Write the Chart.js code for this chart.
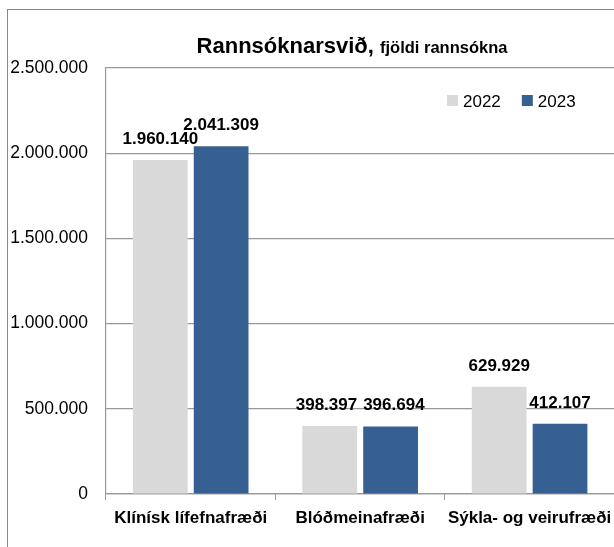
<!DOCTYPE html>
<html>
<head>
<meta charset="utf-8">
<script src="https://cdn.jsdelivr.net/npm/chart.js@4/dist/chart.umd.min.js"></script>
<style>
  html, body { margin: 0; padding: 0; background: #fff; overflow: hidden; }
  #frame { position: absolute; left: 7px; top: 9px; width: 700px; height: 600px; border: 1px solid #8a8a8a; }
  #wrap { position: absolute; left: 0; top: 0; width: 620px; height: 547px; }
</style>
</head>
<body>
<div id="frame"></div>
<div id="wrap"><canvas id="chart"></canvas></div>
<script>
const categories = ["Klínísk lífefnafræði", "Blóðmeinafræði", "Sýkla- og veirufræði"];
const values2022 = [1960140, 398397, 629929];
const values2023 = [2041309, 396694, 412107];
const seriesNames = ["2022", "2023"];
const titleMain = "Rannsóknarsvið,";
const titleSub = "fjöldi rannsókna";

const FONT = "'Liberation Sans', Arial, sans-serif";

function fmt(n) {
    return String(n).replace(/\B(?=(\d{3})+(?!\d))/g, ".");
}

// title drawn in two sizes, like the original
const titlePlugin = {
    id: "twoPartTitle",
    afterDraw(chart) {
        const ctx = chart.ctx;
        ctx.save();
        ctx.fillStyle = "#000";
        ctx.textBaseline = "alphabetic";
        ctx.font = "bold 22px " + FONT;
        const w1 = ctx.measureText(titleMain + " ").width;
        ctx.font = "bold 16.5px " + FONT;
        const w2 = ctx.measureText(titleSub).width;
        let x = 352 - (w1 + w2) / 2;
        ctx.font = "bold 22px " + FONT;
        ctx.fillText(titleMain + " ", x, 53);
        ctx.font = "bold 16.5px " + FONT;
        ctx.fillText(titleSub, x + w1, 53);
        ctx.restore();
    }
};

// value labels above each bar, pushed apart when two in a group collide
const valueLabels = {
    id: "valueLabels",
    afterDatasetsDraw(chart) {
        const ctx = chart.ctx;
        ctx.save();
        ctx.font = "bold 17px " + FONT;
        ctx.fillStyle = "#000";
        ctx.textAlign = "center";
        ctx.textBaseline = "alphabetic";
        const metaA = chart.getDatasetMeta(0).data;
        const metaB = chart.getDatasetMeta(1).data;
        categories.forEach((c, j) => {
            const ta = fmt(chart.data.datasets[0].data[j]);
            const tb = fmt(chart.data.datasets[1].data[j]);
            let xa = metaA[j].x, xb = metaB[j].x;
            const ya = metaA[j].y - 16, yb = metaB[j].y - 16;
            const wa = ctx.measureText(ta).width, wb = ctx.measureText(tb).width;
            const overlap = (xa + wa / 2) - (xb - wb / 2) + 6;
            if (overlap > 0 && Math.abs(ya - yb) < 10) {
                xa -= overlap / 2;
                xb += overlap / 2;
            }
            ctx.fillText(ta, xa, ya);
            ctx.fillText(tb, xb, yb);
        });
        ctx.restore();
    }
};

// legend inside the plot, top right
const insideLegend = {
    id: "insideLegend",
    afterDraw(chart) {
        const ctx = chart.ctx;
        ctx.save();
        ctx.font = "17px " + FONT;
        ctx.textBaseline = "alphabetic";
        let x = 447;
        chart.data.datasets.forEach((ds) => {
            ctx.fillStyle = ds.backgroundColor;
            ctx.fillRect(x, 95, 11, 11);
            ctx.fillStyle = "#000";
            ctx.fillText(ds.label, x + 16, 107);
            x += 16 + ctx.measureText(ds.label).width + 21;
        });
        ctx.restore();
    }
};

new Chart(document.getElementById("chart"), {
    type: "bar",
    data: {
        labels: categories,
        datasets: [
            {
                label: seriesNames[0],
                data: values2022,
                backgroundColor: "#d9d9d9",
                categoryPercentage: 0.718,
                barPercentage: 0.9,
            },
            {
                label: seriesNames[1],
                data: values2023,
                backgroundColor: "#376092",
                categoryPercentage: 0.718,
                barPercentage: 0.9,
            },
        ],
    },
    options: {
        responsive: true,
        maintainAspectRatio: false,
        animation: false,
        layout: { padding: { top: 68, right: 4, left: 0, bottom: 0 } },
        plugins: {
            legend: { display: false },
            tooltip: { enabled: false },
        },
        scales: {
            x: {
                offset: true,
                grid: {
                    offset: true,
                    drawOnChartArea: false,
                    drawTicks: true,
                    tickLength: 6,
                    color: "#999",
                },
                border: { color: "#999", width: 1.2 },
                ticks: {
                    color: "#000",
                    padding: 8,
                    font: { family: FONT, size: 17, weight: "bold" },
                },
                afterFit(scale) { scale.height = 53; },
            },
            y: {
                min: 0,
                max: 2500000,
                ticks: {
                    stepSize: 500000,
                    color: "#000",
                    padding: 18,
                    font: { family: FONT, size: 17.5 },
                    callback: (v) => fmt(v),
                },
                grid: { color: "#999", lineWidth: 1.2, drawTicks: false },
                border: { color: "#999", width: 1.2 },
                afterFit(scale) { scale.width = 106; },
            },
        },
    },
    plugins: [titlePlugin, valueLabels, insideLegend],
});
</script>
</body>
</html>
